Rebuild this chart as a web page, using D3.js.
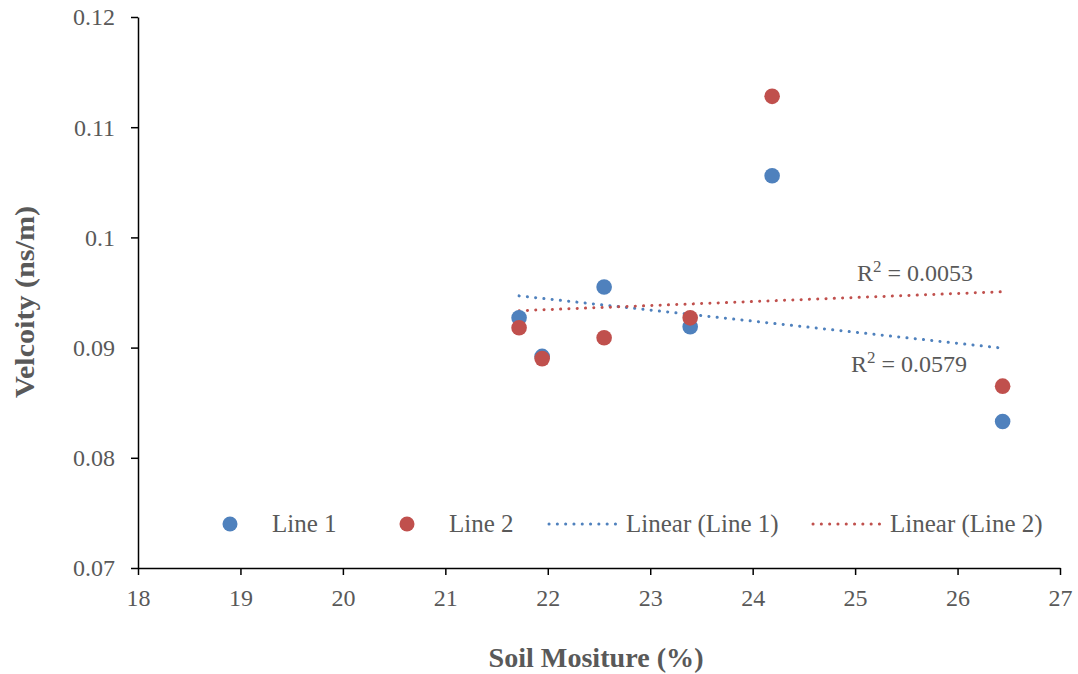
<!DOCTYPE html>
<html>
<head>
<meta charset="utf-8">
<script src="https://cdn.jsdelivr.net/npm/d3@7"></script>
<style>
  body { margin: 0; background: #fff; }
  text { font-family: "Liberation Serif", "DejaVu Serif", serif; fill: #595959; }
</style>
</head>
<body>
<svg id="chart" width="1078" height="674"></svg>
<script>
// soil moisture (%) and velocity (ns/m)
let moisture = [21.72, 21.945, 22.55, 23.39, 24.19, 26.44];
let line1 = [0.0927, 0.0892, 0.0955, 0.0919, 0.1056, 0.0833];
let line2 = [0.0918, 0.0890, 0.0909, 0.0927, 0.1128, 0.0865];
let xTicks = [18, 19, 20, 21, 22, 23, 24, 25, 26, 27];
let yTicks = [0.07, 0.08, 0.09, 0.1, 0.11, 0.12];
let r2Labels = ["0.0579", "0.0053"];

let svg = d3.select("#chart");
let margin = {left: 138, right: 18, top: 17, bottom: 106};
let W = 1078, H = 674;

let x = d3.scaleLinear().domain([18, 27]).range([margin.left, W - margin.right]);
let y = d3.scaleLinear().domain([0.07, 0.12]).range([H - margin.bottom, margin.top]);

let colors = ["#4f81bd", "#c0504d"];
let series = [line1, line2];

// least squares fit, same as excel's linear trendline
function fit(xs, ys) {
  let mx = d3.mean(xs), my = d3.mean(ys);
  let sxy = d3.sum(xs, (v, i) => (v - mx) * (ys[i] - my));
  let sxx = d3.sum(xs, v => (v - mx) * (v - mx));
  let b = sxy / sxx;
  return {a: my - b * mx, b: b};
}

// axes
let xAxis = svg.append("g")
  .attr("transform", `translate(0,${y(0.07)})`)
  .call(d3.axisBottom(x).tickValues(xTicks).tickSize(7).tickSizeOuter(0).tickFormat(d3.format("d")));
let yAxis = svg.append("g")
  .attr("transform", `translate(${x(18)},0)`)
  .call(d3.axisLeft(y).tickValues(yTicks).tickSize(7).tickSizeOuter(0).tickFormat(d => String(+d.toFixed(2))));

[xAxis, yAxis].forEach(g => {
  g.select(".domain").attr("stroke", "#000").attr("stroke-width", 1.5);
  g.selectAll(".tick line").attr("stroke", "#000").attr("stroke-width", 1.5);
  g.selectAll(".tick text").style("font-size", "24px").attr("fill", "#595959")
    .style("font-family", "'Liberation Serif', serif");
});
xAxis.selectAll(".tick text").attr("y", 38).attr("dy", 0);
yAxis.selectAll(".tick text").attr("x", -23).attr("dy", "0.33em");

// trendlines
let xmin = d3.min(moisture), xmax = d3.max(moisture);
series.forEach((s, k) => {
  let f = fit(moisture, s);
  svg.append("line")
    .attr("x1", x(xmin)).attr("y1", y(f.a + f.b * xmin))
    .attr("x2", x(xmax)).attr("y2", y(f.a + f.b * xmax))
    .attr("stroke", colors[k]).attr("stroke-width", 3)
    .attr("stroke-linecap", "round").attr("stroke-dasharray", "0.1 8.2");
});

// points
series.forEach((s, k) => {
  svg.append("g").selectAll("circle").data(s).enter().append("circle")
    .attr("cx", (d, i) => x(moisture[i]))
    .attr("cy", d => y(d))
    .attr("r", 7.8)
    .attr("fill", colors[k]);
});

// R² labels
let r2pos = [{x: 851, y: 372}, {x: 857, y: 281}];
r2Labels.forEach((t, k) => {
  let tx = svg.append("text").attr("x", r2pos[k].x).attr("y", r2pos[k].y).style("font-size", "24px");
  tx.append("tspan").text("R");
  tx.append("tspan").text("2").attr("dy", -9).style("font-size", "17px");
  tx.append("tspan").text(" = " + t).attr("dy", 9);
});

// legend
let legend = svg.append("g").attr("transform", "translate(0,524)");
let items = [
  {type: "dot", c: colors[0], label: "Line 1", x: 230},
  {type: "dot", c: colors[1], label: "Line 2", x: 407},
  {type: "line", c: colors[0], label: "Linear (Line 1)", x: 549},
  {type: "line", c: colors[1], label: "Linear (Line 2)", x: 813}
];
items.forEach(it => {
  if (it.type == "dot") {
    legend.append("circle").attr("cx", it.x).attr("cy", 0).attr("r", 7.5).attr("fill", it.c);
    legend.append("text").attr("x", it.x + 42).attr("y", 8).style("font-size", "25px").text(it.label);
  } else {
    legend.append("line").attr("x1", it.x).attr("x2", it.x + 71).attr("y1", 0).attr("y2", 0)
      .attr("stroke", it.c).attr("stroke-width", 3)
      .attr("stroke-linecap", "round").attr("stroke-dasharray", "0.1 8.2");
    legend.append("text").attr("x", it.x + 77).attr("y", 8).style("font-size", "25px").text(it.label);
  }
});

// axis titles
svg.append("text")
  .attr("x", 596).attr("y", 667)
  .attr("text-anchor", "middle")
  .style("font-size", "27px").style("font-weight", "bold")
  .attr("textLength", 215).attr("lengthAdjust", "spacingAndGlyphs")
  .text("Soil Mositure (%)");
svg.append("text")
  .attr("transform", "translate(34,302) rotate(-90)")
  .attr("text-anchor", "middle")
  .style("font-size", "27px").style("font-weight", "bold")
  .attr("textLength", 192).attr("lengthAdjust", "spacingAndGlyphs")
  .text("Velcoity (ns/m)");
</script>
</body>
</html>
